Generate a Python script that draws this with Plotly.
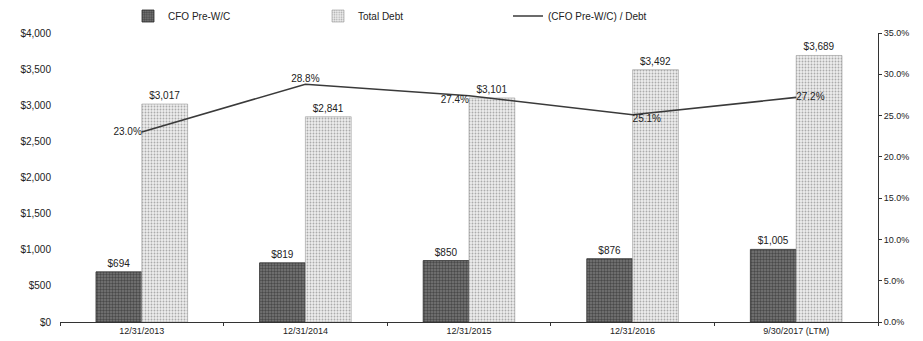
import plotly.graph_objects as go

periods = ['12/31/2013', '12/31/2014', '12/31/2015', '12/31/2016', '9/30/2017 (LTM)']
cfo_pre_wc = [694, 819, 850, 876, 1005]
total_debt = [3017, 2841, 3101, 3492, 3689]
cfo_to_debt = [23.0, 28.8, 27.4, 25.1, 27.2]
ratio_text_pos = ['middle left', 'top center', 'bottom left', 'bottom right', 'middle right']

font = 'Liberation Sans, Arial, sans-serif'

fig = go.Figure()
fig.add_trace(go.Bar(
    x=periods, y=cfo_pre_wc, name='CFO Pre-W/C',
    text=['${:,.0f}'.format(v) for v in cfo_pre_wc],
    textposition='outside', cliponaxis=False,
    textfont=dict(size=10, color='#222'),
    marker=dict(color='#5a5a5a', line=dict(color='#2a2a2a', width=0.8),
                pattern=dict(shape='.', fgcolor='#1a1a1a', bgcolor='#787878',
                             size=3, solidity=0.5)),
))
fig.add_trace(go.Bar(
    x=periods, y=total_debt, name='Total Debt',
    text=['${:,.0f}'.format(v) for v in total_debt],
    textposition='outside', cliponaxis=False,
    textfont=dict(size=10, color='#222'),
    marker=dict(color='#dedede', line=dict(color='#999', width=0.6),
                pattern=dict(shape='.', fgcolor='#6a6a6a', bgcolor='#ececec',
                             size=3, solidity=0.3)),
))
fig.add_trace(go.Scatter(
    x=periods, y=cfo_to_debt, name='(CFO Pre-W/C) / Debt', yaxis='y2',
    mode='lines+text',
    text=['{:.1f}%'.format(v) for v in cfo_to_debt],
    textposition=ratio_text_pos, cliponaxis=False,
    textfont=dict(size=10, color='#222'),
    line=dict(color='#3a3a3a', width=1.6),
))

fig.update_layout(
    width=923, height=341,
    margin={'l': 60, 'r': 45, 't': 33, 'b': 19, 'autoexpand': False},
    paper_bgcolor='white', plot_bgcolor='white',
    font=dict(family=font, size=9, color='#222'),
    barmode='group', bargap=0.44, bargroupgap=0,
    showlegend=True,
    legend=dict(orientation='h', xref='container', yref='container',
                x=128 / 923, y=1 - 16 / 341, xanchor='left', yanchor='middle',
                entrywidth=145, font=dict(size=10, color='#222'),
                itemwidth=30, bgcolor='rgba(0,0,0,0)'),
    xaxis=dict(showline=True, linecolor='#333', linewidth=1, ticks='outside',
               tickson='boundaries', ticklen=3, tickcolor='#333',
               tickfont=dict(size=9), showgrid=False),
    yaxis=dict(range=[0, 4000], dtick=500, tickprefix='$', tickformat=',.0f',
               showgrid=False, zeroline=False, showline=False,
               ticklabelstandoff=8, tickfont=dict(size=10)),
    yaxis2=dict(range=[0, 35], dtick=5, ticksuffix='%', tickformat='.1f',
                overlaying='y', side='right', showgrid=False, zeroline=False,
                showline=True, linecolor='#333', linewidth=1,
                ticks='outside', ticklen=3, tickcolor='#333',
                tickfont=dict(size=9)),
)

fig.write_html('out.html', config={'displayModeBar': False},
               post_script="document.body.style.margin='0';")
